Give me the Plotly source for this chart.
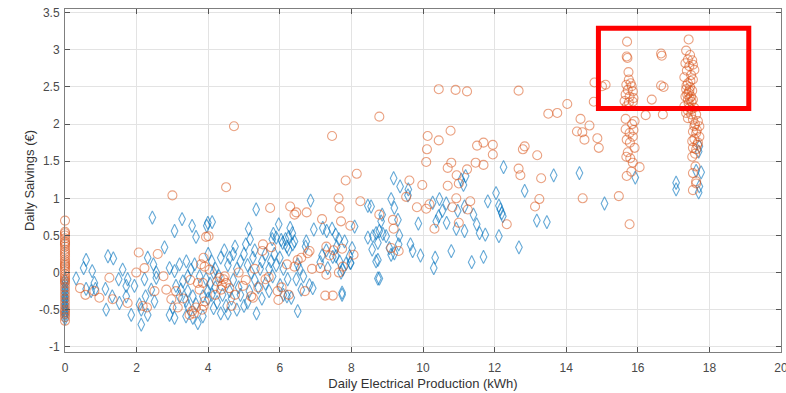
import plotly.graph_objects as go

# ---------------- data ----------------
x_zero_orange_savings = [0.70, 0.55, 0.53, 0.50, 0.46, 0.42, 0.40, 0.38, 0.35, 0.31, 0.28, 0.25, 0.22,
                         0.18, 0.15, 0.12, 0.10, 0.08, 0.05, 0.02, -0.02, -0.05, -0.08, -0.10, -0.12,
                         -0.15, -0.20, -0.25, -0.30, -0.35, -0.40, -0.45, -0.50, -0.53, -0.56, -0.60, -0.65]
x_zero_blue_savings = [-0.10, -0.15, -0.20, -0.24, -0.28, -0.32, -0.35, -0.38, -0.42, -0.45, -0.48,
                       -0.52, -0.55, -0.58, -0.62]

orange_points = [
    (0.42, -0.21), (0.57, -0.30), (0.82, -0.25), (0.96, -0.34), (1.24, -0.07), (1.33, -0.36),
    (1.75, -0.41), (1.99, 0.00), (2.06, 0.27), (2.22, 0.06), (2.17, -0.45), (2.29, -0.47),
    (2.50, -0.25), (2.59, 0.25), (2.83, -0.23), (2.97, -0.36), (3.00, 1.04), (3.15, -0.47),
    (3.48, -0.57), (3.66, -0.47), (3.90, -0.39), (3.76, -0.23), (3.71, -0.14), (3.90, 0.08),
    (4.04, 0.04), (3.94, 0.48), (4.01, 0.49), (3.87, 0.20), (3.80, 0.11), (4.32, -0.07),
    (4.46, -0.05), (4.39, -0.18), (4.50, -0.14), (4.59, -0.21), (4.36, -0.23), (4.43, -0.09),
    (3.85, -0.14), (4.97, -0.18), (5.20, -0.32), (5.25, -0.34), (5.60, -0.09), (5.69, -0.06),
    (5.94, -0.25), (5.96, -0.37), (7.48, -0.31), (7.27, -0.31), (3.87, -0.45), (3.83, -0.50),
    (4.50, 1.15), (4.72, 1.97), (5.73, 0.87), (6.29, 0.89), (6.46, 0.81), (6.41, 0.78),
    (6.75, 0.81), (7.64, 1.00), (7.67, 0.87), (7.84, 1.24), (7.18, 0.72), (7.71, 0.69),
    (5.53, 0.38), (5.76, 0.34), (5.51, 0.29), (6.83, 0.29), (6.78, 0.26), (7.30, 0.35),
    (7.39, 0.23), (7.50, 0.30), (7.74, 0.32), (6.20, 0.11), (6.41, 0.08), (6.50, 0.17),
    (6.60, 0.20), (7.13, 0.06), (7.30, -0.03), (7.65, 0.00), (7.76, 0.08), (7.46, 1.84),
    (3.30, -0.35), (3.50, -0.10), (3.10, -0.25), (2.75, -0.05), (3.60, -0.55), (4.20, -0.30),
    (4.75, -0.30), (5.05, -0.10), (5.30, 0.05), (6.05, -0.20), (6.25, -0.30), (6.70, -0.25),
    (6.90, 0.05), (4.85, 0.00), (5.40, -0.20), (4.65, -0.45), (3.55, -0.52), (4.25, -0.12),
    (10.44, 2.47), (10.91, 2.46), (11.23, 2.44), (8.78, 2.10), (10.13, 1.84), (10.77, 1.91),
    (10.44, 1.78), (10.11, 1.66), (11.51, 1.71), (11.69, 1.75), (10.09, 1.49), (10.79, 1.48),
    (10.69, 1.41), (11.23, 1.39), (11.47, 1.48), (11.69, 1.45), (10.94, 1.31), (8.15, 1.33),
    (9.62, 1.24), (9.98, 1.18), (10.69, 1.17), (11.00, 1.20), (9.53, 1.02), (10.93, 1.00),
    (8.25, 0.96), (9.83, 0.88), (10.09, 0.86), (10.18, 0.92), (10.82, 0.88), (11.32, 0.96),
    (11.25, 0.85), (8.78, 0.78), (9.16, 0.71), (7.97, 0.63), (10.32, 0.59), (11.00, 0.67),
    (9.18, 0.59), (8.06, 0.24), (9.32, 0.29), (9.11, 0.33),
    (12.67, 2.45), (13.50, 2.14), (13.75, 2.15), (14.03, 2.27), (14.79, 2.56), (15.00, 2.51),
    (15.10, 2.53), (14.77, 2.30), (14.40, 2.07), (14.65, 1.98), (14.30, 1.90), (14.45, 1.89),
    (14.51, 1.79), (14.87, 1.81), (14.91, 1.68), (11.95, 1.72), (11.95, 1.59), (12.84, 1.70),
    (12.79, 1.66), (13.19, 1.58), (12.67, 1.40), (12.72, 1.31), (13.30, 1.27), (13.25, 0.99),
    (13.13, 0.89), (12.34, 0.65), (14.46, 1.00), (15.47, 1.03), (15.77, 0.65),
    (15.70, 3.11), (15.69, 2.91), (15.71, 2.89), (15.74, 2.70), (15.75, 2.60), (15.80, 2.55),
    (15.68, 2.53), (15.83, 2.51), (15.72, 2.46), (15.86, 2.44), (15.66, 2.40), (15.77, 2.37),
    (15.88, 2.35), (15.63, 2.31), (15.75, 2.29), (15.86, 2.30), (15.69, 2.24), (15.66, 2.07),
    (15.91, 2.04), (15.84, 2.00), (15.66, 1.93), (15.77, 1.88), (15.88, 1.92), (15.69, 1.79),
    (15.86, 1.83), (15.91, 1.68), (15.68, 1.56), (15.79, 1.54), (15.86, 1.48), (16.05, 1.42),
    (15.69, 1.30), (15.82, 1.36), (15.78, 1.75), (15.72, 1.62),
    (16.65, 2.95), (16.67, 2.92), (16.65, 2.52), (16.72, 2.50), (16.39, 2.33), (16.22, 2.12),
    (16.70, 2.13),
    (17.42, 3.14), (17.35, 2.99), (17.46, 2.93), (17.40, 2.87), (17.52, 2.86), (17.33, 2.82),
    (17.54, 2.80), (17.44, 2.78), (17.58, 2.73), (17.37, 2.72), (17.49, 2.66), (17.30, 2.63),
    (17.54, 2.60), (17.40, 2.55), (17.46, 2.50), (17.35, 2.47), (17.52, 2.45), (17.42, 2.42),
    (17.33, 2.37), (17.49, 2.37), (17.40, 2.33), (17.54, 2.33), (17.30, 2.24), (17.44, 2.22),
    (17.58, 2.22), (17.35, 2.15), (17.49, 2.13), (17.63, 2.13), (17.40, 2.08), (17.54, 2.06),
    (17.68, 2.04), (17.58, 1.97), (17.72, 1.97), (17.54, 1.90), (17.63, 1.88), (17.72, 1.83),
    (17.52, 1.77), (17.68, 1.75), (17.54, 1.68), (17.63, 1.66), (17.52, 1.56), (17.61, 1.43),
    (17.54, 1.34), (17.63, 1.23), (17.54, 1.11), (17.63, 1.20), (17.38, 2.40), (17.45, 2.35),
    (17.50, 2.30), (17.42, 2.28), (17.36, 2.52), (17.47, 2.58), (17.44, 2.45), (17.50, 2.20),
    (17.40, 2.18), (17.60, 2.00), (17.65, 1.92), (17.58, 1.80), (17.66, 1.72), (17.60, 1.60),
]

blue_points = [
    (2.44, 0.74), (3.27, 0.72), (3.06, 0.56), (3.55, 0.63), (3.66, 0.48), (3.96, 0.63),
    (2.78, 0.34), (1.20, 0.22), (1.35, 0.19), (0.59, 0.17), (0.52, 0.06), (0.76, 0.02),
    (0.31, -0.08), (0.82, -0.14), (0.85, -0.22), (1.13, -0.22), (0.59, -0.22), (0.73, -0.25),
    (1.61, 0.04), (1.50, -0.09), (1.75, -0.09), (1.71, -0.18), (1.94, -0.18), (1.32, -0.32),
    (1.15, -0.50), (1.52, -0.41), (1.71, -0.32), (1.85, -0.57), (2.13, -0.50), (2.13, -0.70),
    (2.31, -0.57), (2.25, -0.32), (2.08, -0.43), (2.50, -0.39), (2.41, -0.23), (2.55, -0.07),
    (2.22, -0.09), (2.31, 0.20), (2.47, 0.11), (2.55, 0.00), (2.92, 0.06), (3.06, 0.02),
    (3.20, 0.11), (3.39, 0.15), (3.52, 0.04), (3.62, 0.11), (3.43, -0.05), (3.29, -0.12),
    (3.10, -0.18), (3.24, -0.23), (3.43, -0.25), (3.57, -0.32), (3.38, -0.38), (3.20, -0.32),
    (2.92, -0.57), (3.06, -0.61), (3.38, -0.59), (3.57, -0.61), (3.85, -0.59), (3.94, -0.09),
    (3.76, -0.05), (3.99, -0.25), (3.85, -0.32), (3.43, -0.45), (3.66, -0.43), (3.01, -0.47),
    (3.71, -0.68),
    (4.00, 0.25), (4.10, 0.15), (4.20, 0.05), (4.30, -0.05), (4.20, -0.20), (4.10, -0.30),
    (4.00, -0.35), (4.25, -0.40), (4.40, -0.30), (4.50, -0.45), (4.60, -0.25), (4.70, -0.10),
    (4.80, 0.05), (4.90, 0.15), (5.00, 0.25), (5.10, 0.10), (5.20, 0.00), (5.30, -0.10),
    (5.40, -0.20), (5.50, 0.15), (5.60, 0.25), (5.70, 0.05), (5.80, -0.05), (5.90, 0.10),
    (4.60, 0.20), (4.45, 0.30), (4.75, 0.35), (5.05, 0.38), (5.30, 0.30), (4.90, -0.30),
    (5.00, -0.45), (4.80, -0.50), (4.35, -0.55), (4.15, -0.48), (5.50, -0.35), (5.70, -0.25),
    (5.35, -0.55), (6.00, 0.20), (5.85, 0.25), (6.10, 0.05), (5.45, 0.05), (4.55, 0.10),
    (4.65, -0.35), (5.15, -0.25), (4.05, -0.15), (4.15, 0.00), (4.35, 0.20), (4.70, 0.25),
    (5.25, 0.20), (5.60, -0.15), (5.10, -0.40), (4.55, -0.55), (4.85, -0.20), (5.75, 0.15),
    (6.86, 0.97), (5.34, 0.85), (3.99, 0.67), (4.11, 0.68), (5.13, 0.59), (5.17, 0.45),
    (5.97, 0.65), (6.29, 0.60), (6.35, 0.53), (6.25, 0.48), (5.82, 0.52), (5.79, 0.45),
    (5.90, 0.47), (6.04, 0.44), (6.16, 0.45), (6.08, 0.40), (6.20, 0.35), (6.25, 0.31),
    (6.41, 0.42), (6.36, 0.38), (6.74, 0.42), (6.72, 0.35), (6.95, 0.58), (7.20, 0.60),
    (7.31, 0.56), (7.46, 0.59), (7.56, 0.51), (7.65, 0.45), (7.81, 0.42), (7.59, 0.35),
    (7.30, 0.30), (7.48, 0.21), (7.67, 0.15), (7.76, 0.04), (7.85, 0.12), (7.34, 0.06),
    (7.13, 0.14), (7.18, 0.23), (7.57, 0.22), (6.50, 0.11), (6.55, 0.05), (6.66, -0.05),
    (6.83, -0.17), (6.92, -0.21), (6.60, -0.23), (6.46, -0.09), (6.22, -0.09), (6.10, -0.30),
    (6.01, -0.17), (6.32, -0.34), (6.20, -0.32), (6.50, -0.52), (7.74, -0.30), (7.97, 0.13),
    (8.74, -0.08), (7.71, 0.00), (7.74, -0.27),
    (9.18, 1.27), (9.36, 1.16), (9.59, 1.12), (9.58, 1.04), (9.11, 0.99), (9.20, 0.87),
    (9.30, 0.71), (8.46, 0.90), (8.55, 0.89), (8.86, 0.78), (8.83, 0.69), (9.87, 0.66),
    (10.46, 0.99), (10.65, 0.93), (10.54, 0.83), (10.44, 0.76), (10.37, 0.69), (10.66, 0.67),
    (10.27, 0.94), (10.97, 0.83), (11.16, 0.89), (11.41, 0.78), (10.93, 0.59), (11.16, 0.56),
    (11.50, 0.65), (11.58, 0.53), (11.74, 0.51), (11.81, 0.96), (11.07, 1.25), (11.13, 1.18),
    (11.19, 1.30), (8.09, 0.62), (8.46, 0.47), (8.60, 0.49), (8.69, 0.53), (8.78, 0.56),
    (8.88, 0.52), (8.97, 0.49), (8.74, 0.40), (8.58, 0.31), (9.06, 0.33), (9.34, 0.50),
    (9.32, 0.38), (9.11, 0.24), (9.20, 0.26), (9.65, 0.38), (9.71, 0.29), (8.69, 0.15),
    (8.74, 0.17), (8.02, 0.33), (7.95, 0.22), (7.98, 0.13), (9.93, 0.23), (10.34, 0.20),
    (10.30, 0.06), (10.79, 0.29), (11.36, 0.14), (11.69, 0.21), (8.78, -0.08),
    (12.25, 1.42), (13.65, 1.31), (14.37, 1.34), (12.04, 1.07), (12.84, 1.10), (12.12, 0.90),
    (12.16, 0.85), (12.20, 0.80), (12.23, 0.76), (13.18, 0.70), (13.46, 0.68), (15.07, 0.93),
    (12.12, 0.49), (12.68, 0.34),
    (15.93, 1.28), (17.07, 1.21), (17.07, 1.12), (17.72, 1.70), (17.70, 1.63), (17.63, 1.37),
    (17.77, 1.35), (17.72, 1.16), (17.70, 1.08),
]

x_tick_values = [0, 2, 4, 6, 8, 10, 12, 14, 16, 18, 20]
y_tick_values = [-1, -0.5, 0, 0.5, 1, 1.5, 2, 2.5, 3, 3.5]
y_tick_labels = ["-1", "-0.5", "0", "0.5", "1", "1.5", "2", "2.5", "3", "3.5"]

highlight_box = dict(x0=14.90, x1=19.10, y0=2.21, y1=3.29)

x_title = "Daily Electrical Production (kWh)"
y_title = "Daily Saivings (€)"

# ---------------- build series ----------------
orange_x = [0.0] * len(x_zero_orange_savings) + [p[0] for p in orange_points]
orange_y = list(x_zero_orange_savings) + [p[1] for p in orange_points]
blue_x = [0.0] * len(x_zero_blue_savings) + [p[0] for p in blue_points]
blue_y = list(x_zero_blue_savings) + [p[1] for p in blue_points]

FONT = "Liberation Sans, Arial, sans-serif"

fig = go.Figure()
fig.add_trace(go.Scatter(
    x=blue_x, y=blue_y, mode="markers", name="Blue",
    marker=dict(symbol="diamond-tall-open", size=9.5, color="rgba(0,114,189,0.6)",
                line=dict(width=1.1)),
    cliponaxis=False,
))
fig.add_trace(go.Scatter(
    x=orange_x, y=orange_y, mode="markers", name="Orange",
    marker=dict(symbol="circle-open", size=9, color="rgba(217,83,25,0.55)",
                line=dict(width=1.1)),
    cliponaxis=False,
))

fig.add_shape(type="rect", xref="x", yref="y", **highlight_box,
              line=dict(color="#ff0000", width=5), fillcolor="rgba(0,0,0,0)")

axis_common = dict(
    showline=True, linecolor="#7f7f7f", linewidth=1, mirror="ticks",
    ticks="inside", ticklen=5, tickcolor="#555555", tickwidth=1,
    showgrid=True, gridcolor="#e3e3e3", gridwidth=1, zeroline=False,
    automargin=False, ticklabeloverflow="allow",
    tickfont=dict(family=FONT, size=12, color="#4a4a4a"),
)

fig.update_xaxes(range=[0, 20], tickvals=x_tick_values, ticklabelstandoff=5,
                 title=dict(text=x_title, standoff=4,
                            font=dict(family=FONT, size=13, color="#333333")),
                 **axis_common)
fig.update_yaxes(range=[-1.07, 3.55], tickvals=y_tick_values, ticktext=y_tick_labels,
                 ticklabelstandoff=2,
                 title=dict(text=y_title, standoff=1,
                            font=dict(family=FONT, size=13, color="#333333")),
                 **axis_common)

fig.update_layout(
    width=786, height=393,
    margin=dict(l=65, r=5, t=9, b=41),
    paper_bgcolor="white", plot_bgcolor="white",
    showlegend=False,
)

fig.write_html("out.html", config={"displayModeBar": False},
               post_script="document.body.style.margin='0';document.body.style.overflow='hidden';")
